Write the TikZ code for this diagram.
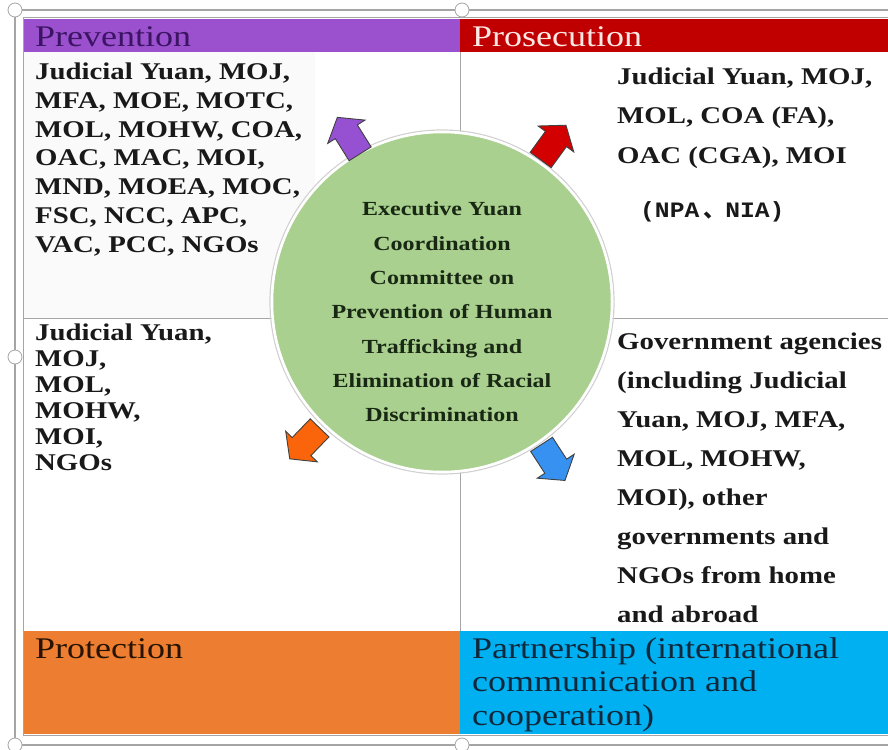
\documentclass[tikz,border=0pt]{standalone}
\usepackage{fontspec}
\setmainfont{Liberation Serif}[FakeStretch=1.2]
\newfontfamily\npafont{Liberation Mono}[FakeStretch=1.12]
\newfontfamily\cjk{Noto Sans CJK SC}
\usepackage{tikz}
\usetikzlibrary{positioning}
\definecolor{prevcol}{RGB}{155,80,205}
\definecolor{proscol}{RGB}{192,0,0}
\definecolor{protcol}{RGB}{237,125,49}
\definecolor{partcol}{RGB}{0,176,240}
\definecolor{cmtcol}{RGB}{169,208,142}
\definecolor{framecol}{RGB}{165,165,165}
\definecolor{prevtxt}{RGB}{60,20,100}
\definecolor{prostxt}{RGB}{253,232,228}
\definecolor{parttxt}{RGB}{15,40,60}
\definecolor{cmttxt}{RGB}{25,40,20}
\definecolor{prevarrow}{RGB}{150,80,210}
\definecolor{prosarrow}{RGB}{210,0,0}
\definecolor{protarrow}{RGB}{250,100,10}
\definecolor{partarrow}{RGB}{55,145,240}
\tikzset{
	head/.style={anchor=base west,inner sep=0,align=left,font=\fontsize{30}{33.5}\selectfont},
	body/.style={anchor=base west,inner sep=0,align=left,text=black!90},
	flow/.style={draw=black!75,line width=.9pt,line join=miter},
	handle/.style={fill=white,draw=framecol,line width=.8pt}
}

\begin{document}
\begin{tikzpicture}[x=1pt,y=-1pt]
	\useasboundingbox (0,0) rectangle (888,749);
	\fill[white] (0,0) rectangle (888,749);
	\fill[black!2] (23,52) rectangle (315,318);
	\draw[framecol,line width=1.2pt] (888,10)--(15,10)--(15,745)--(888,745);
	\fill[prevcol] (23,19) rectangle (460,52);
	\fill[proscol] (460,19) rectangle (888,52);
	\fill[protcol] (23,631) rectangle (460,734);
	\fill[partcol] (460,631) rectangle (888,734);
	\draw[framecol,line width=1pt] (888,18)--(23,18)--(23,735)--(888,735);
	\draw[framecol,line width=1pt] (23,318)--(888,318);
	\draw[framecol,line width=1pt] (460,52)--(460,631);
	\draw[handle] (15,10) circle (7pt);
	\draw[handle] (462,10) circle (7pt);
	\draw[handle] (15,357) circle (7pt);
	\draw[handle] (15,745) circle (7pt);
	\draw[handle] (462,745) circle (7pt);
	\node[head,text=prevtxt] (prevhead) at (35,47) {Prevention};
	\node[head,text=prostxt] (proshead) at (472,47) {Prosecution};
	\node[head,text=black!85!orange] (prothead) at (35,658) {Protection};
	\node[head,text=parttxt] (parthead) at (472,725)
		{Partnership (international\\communication and\\cooperation)};
	\node[body,font=\bfseries\fontsize{24}{28.7}\selectfont] (prevlist) at (35,252)
		{Judicial Yuan, MOJ,\\MFA, MOE, MOTC,\\MOL, MOHW, COA,\\OAC, MAC, MOI,\\MND, MOEA, MOC,\\FSC, NCC, APC,\\VAC, PCC, NGOs};
	\node[body,font=\bfseries\fontsize{24}{39}\selectfont] (proslist) at (617,163)
		{Judicial Yuan, MOJ,\\MOL, COA (FA),\\OAC (CGA), MOI};
	\node[body,font=\npafont\bfseries\fontsize{22}{26}\selectfont] (npa) at (640,217)
		{(NPA\hspace{4pt}{\cjk 、}NIA)};
	\node[body,font=\bfseries\fontsize{24}{26}\selectfont] (protlist) at (35,470)
		{Judicial Yuan,\\MOJ,\\MOL,\\MOHW,\\MOI,\\NGOs};
	\node[body,font=\bfseries\fontsize{24}{38.9}\selectfont] (partlist) at (617,622)
		{Government agencies\\(including Judicial\\Yuan, MOJ, MFA,\\MOL, MOHW,\\MOI), other\\governments and\\NGOs from home\\and abroad};
	\draw[black!18,line width=1.2pt] (442,302) circle (172pt);
	\node[circle,fill=cmtcol,draw=white,line width=2.5pt,minimum size=340pt,inner sep=0] (cmt) at (442,302) {};
	\node[font=\bfseries\fontsize{20}{34.3}\selectfont,align=center,text=cmttxt,inner sep=0]
		(cmtlabel) at ([yshift=-10pt]cmt.center)
		{Executive Yuan\\Coordination\\Committee on\\Prevention of Human\\Trafficking and\\Elimination of Racial\\Discrimination};
	\begin{scope}[shift={(349,136)},rotate=122]
		\draw[flow,fill=prevarrow] (-21,-13)--(5,-13)--(5,-22)--(22,0)--(5,22)--(5,13)--(-21,13)--cycle;
	\end{scope}
	\begin{scope}[shift={(553,143)},rotate=54]
		\draw[flow,fill=prosarrow] (-21,-13)--(5,-13)--(5,-22)--(22,0)--(5,22)--(5,13)--(-21,13)--cycle;
	\end{scope}
	\begin{scope}[shift={(305,443)},rotate=226]
		\draw[flow,fill=protarrow] (-21,-13)--(5,-13)--(5,-22)--(22,0)--(5,22)--(5,13)--(-21,13)--cycle;
	\end{scope}
	\begin{scope}[shift={(553,462)},rotate=-57]
		\draw[flow,fill=partarrow] (-21,-13)--(5,-13)--(5,-22)--(22,0)--(5,22)--(5,13)--(-21,13)--cycle;
	\end{scope}
\end{tikzpicture}
\end{document}
